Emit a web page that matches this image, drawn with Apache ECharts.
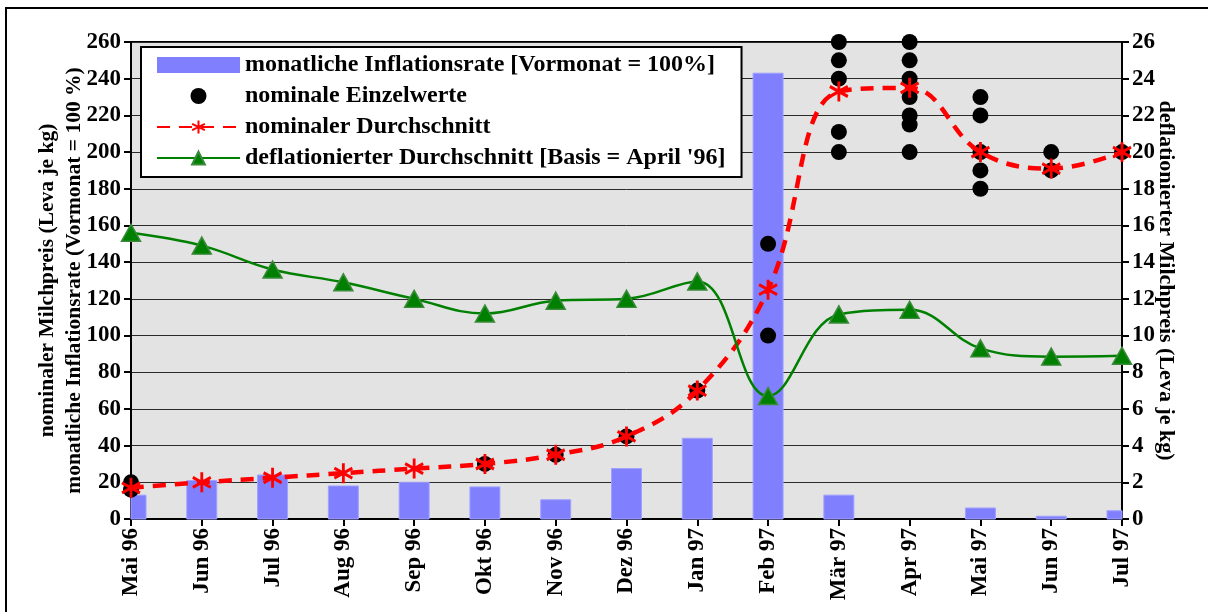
<!DOCTYPE html>
<html>
<head>
<meta charset="utf-8">
<script src="https://cdn.jsdelivr.net/npm/echarts@6/dist/echarts.min.js"></script>
<style>
html,body{margin:0;padding:0;background:#fff;}
#c{width:1208px;height:612px;}
</style>
</head>
<body>
<div id="c"></div>
<script>
var categories = ['Mai 96','Jun 96','Jul 96','Aug 96','Sep 96','Okt 96','Nov 96','Dez 96','Jan 97','Feb 97','Mär 97','Apr 97','Mai 97','Jun 97','Jul 97'];
var inflationRate = [13, 21, 24, 18, 20, 17.5, 10.5, 27.5, 44, 243, 13, 0, 6, 1.5, 4.5];
var nominalSingles = [[20,16],[],[],[],[],[30],[35],[45],[70],[150,100],[260,250,240,211,200],[260,250,240,230,220,215,200],[230,220,200,190,180],[200,190],[200]];
var nominalAverage = [17, 20, 22.5, 25, 27.5, 30, 35, 45, 70, 125, 233, 235, 200, 191, 200];
var deflatedAverage = [15.6, 14.9, 13.6, 12.9, 12.0, 11.2, 11.9, 12.0, 12.95, 6.7, 11.15, 11.4, 9.3, 8.85, 8.9];
var leftTicks = {min: 0, max: 260, interval: 20};
var rightTicks = {min: 0, max: 26, interval: 2};
var seriesNames = ['monatliche Inflationsrate [Vormonat = 100%]', 'nominale Einzelwerte', 'nominaler Durchschnitt', 'deflationierter Durchschnitt [Basis = April \'96]'];
var leftAxisName = 'nominaler Milchpreis (Leva je kg)\nmonatliche Inflationsrate (Vormonat = 100 %)';
var rightAxisName = 'deflationierter Milchpreis (Leva je kg)';

var singlesData = [];
nominalSingles.forEach(function (vals, i) {
  vals.forEach(function (v) { singlesData.push([categories[i], v]); });
});
var barData = inflationRate.map(function (v, i) { return [i, v]; });

var FONT = '"Liberation Serif", "Times New Roman", serif';
var txt = {fontFamily: FONT, fontWeight: 'bold', fontSize: 23, color: '#000'};
var asterisk = 'path://M10,0 L10,20 M1.34,5 L18.66,15 M1.34,15 L18.66,5';
var BAR_W = 30;

function renderBar(params, api) {
  var top = api.coord([api.value(0), api.value(1)]);
  var base = api.coord([api.value(0), 0]);
  var cs = params.coordSys;
  var rect = echarts.graphic.clipRectByRect(
    {x: top[0] - BAR_W / 2, y: top[1], width: BAR_W, height: base[1] - top[1]},
    {x: cs.x, y: cs.y, width: cs.width, height: cs.height}
  );
  if (!rect || rect.height <= 0) return null;
  return {type: 'rect', shape: rect, style: api.style({fill: '#8080FF', stroke: '#A0A0FF', lineWidth: 1})};
}

var chart = echarts.init(document.getElementById('c'), null, {renderer: 'canvas'});
chart.setOption({
  animation: false,
  backgroundColor: '#fff',
  graphic: [{
    type: 'rect', z: 100, silent: true,
    shape: {x: 6, y: 8, width: 1240, height: 700},
    style: {fill: 'none', stroke: '#000', lineWidth: 2}
  }],
  grid: {
    left: 131, right: 86, top: 42, bottom: 93,
    show: true, backgroundColor: '#E3E3E3', borderColor: '#000', borderWidth: 2
  },
  legend: {
    orient: 'vertical', left: 141, top: 47,
    backgroundColor: '#fff', borderColor: '#000', borderWidth: 2,
    padding: [6, 16, 7, 15],
    itemWidth: 83, itemHeight: 16, itemGap: 7,
    textStyle: Object.assign({lineHeight: 24}, txt, {fontSize: 24}),
    data: [{name: seriesNames[0], icon: 'rect'}, seriesNames[1], seriesNames[2], seriesNames[3]]
  },
  xAxis: {
    type: 'category', data: categories, boundaryGap: false,
    axisLine: {lineStyle: {color: '#000', width: 2}},
    axisTick: {show: true, length: 7, lineStyle: {color: '#000', width: 2}},
    axisLabel: Object.assign({rotate: 90, margin: 9, interval: 0}, txt),
    splitLine: {show: false}
  },
  yAxis: [{
    type: 'value', min: leftTicks.min, max: leftTicks.max, interval: leftTicks.interval,
    position: 'left',
    name: leftAxisName, nameLocation: 'middle', nameRotate: 90, nameGap: 43, nameMoveOverlap: false,
    nameTextStyle: {lineHeight: 27, fontSize: 21.5, fontFamily: FONT, fontWeight: 'bold', color: '#000'},
    axisLine: {show: true, lineStyle: {color: '#000', width: 2}},
    axisTick: {show: true, length: 7, lineStyle: {color: '#000', width: 2}},
    axisLabel: Object.assign({margin: 10}, txt),
    splitLine: {show: true, lineStyle: {color: '#2a2a2a', width: 1}}
  }, {
    type: 'value', min: rightTicks.min, max: rightTicks.max, interval: rightTicks.interval,
    position: 'right',
    name: rightAxisName, nameLocation: 'middle', nameRotate: -90, nameGap: 33, nameMoveOverlap: false,
    nameTextStyle: {fontFamily: FONT, fontWeight: 'bold', color: '#000', fontSize: 22},
    axisLine: {show: true, lineStyle: {color: '#000', width: 2}},
    axisTick: {show: true, length: 7, lineStyle: {color: '#000', width: 2}},
    axisLabel: Object.assign({margin: 10}, txt),
    splitLine: {show: false}
  }],
  series: [{
    name: seriesNames[0], type: 'custom', yAxisIndex: 0,
    data: barData, encode: {x: 0, y: 1},
    renderItem: renderBar,
    itemStyle: {color: '#8080FF'}
  }, {
    name: seriesNames[1], type: 'scatter', yAxisIndex: 0,
    data: singlesData, symbol: 'circle', symbolSize: 16,
    itemStyle: {color: '#000', opacity: 1}
  }, {
    name: seriesNames[2], type: 'line', yAxisIndex: 0,
    data: nominalAverage, smooth: 0.4,
    symbol: asterisk, symbolSize: [18, 20],
    lineStyle: {color: '#FF0000', width: 4.5, type: [13, 9]},
    itemStyle: {color: '#FF0000', borderColor: '#FF0000', borderWidth: 3}
  }, {
    name: seriesNames[3], type: 'line', yAxisIndex: 1,
    data: deflatedAverage, smooth: 0.4,
    symbol: 'triangle', symbolSize: [19, 17],
    lineStyle: {color: '#008000', width: 2.5},
    itemStyle: {color: '#008000', borderColor: '#3A8A3A', borderWidth: 1.5}
  }]
});
</script>
</body>
</html>
